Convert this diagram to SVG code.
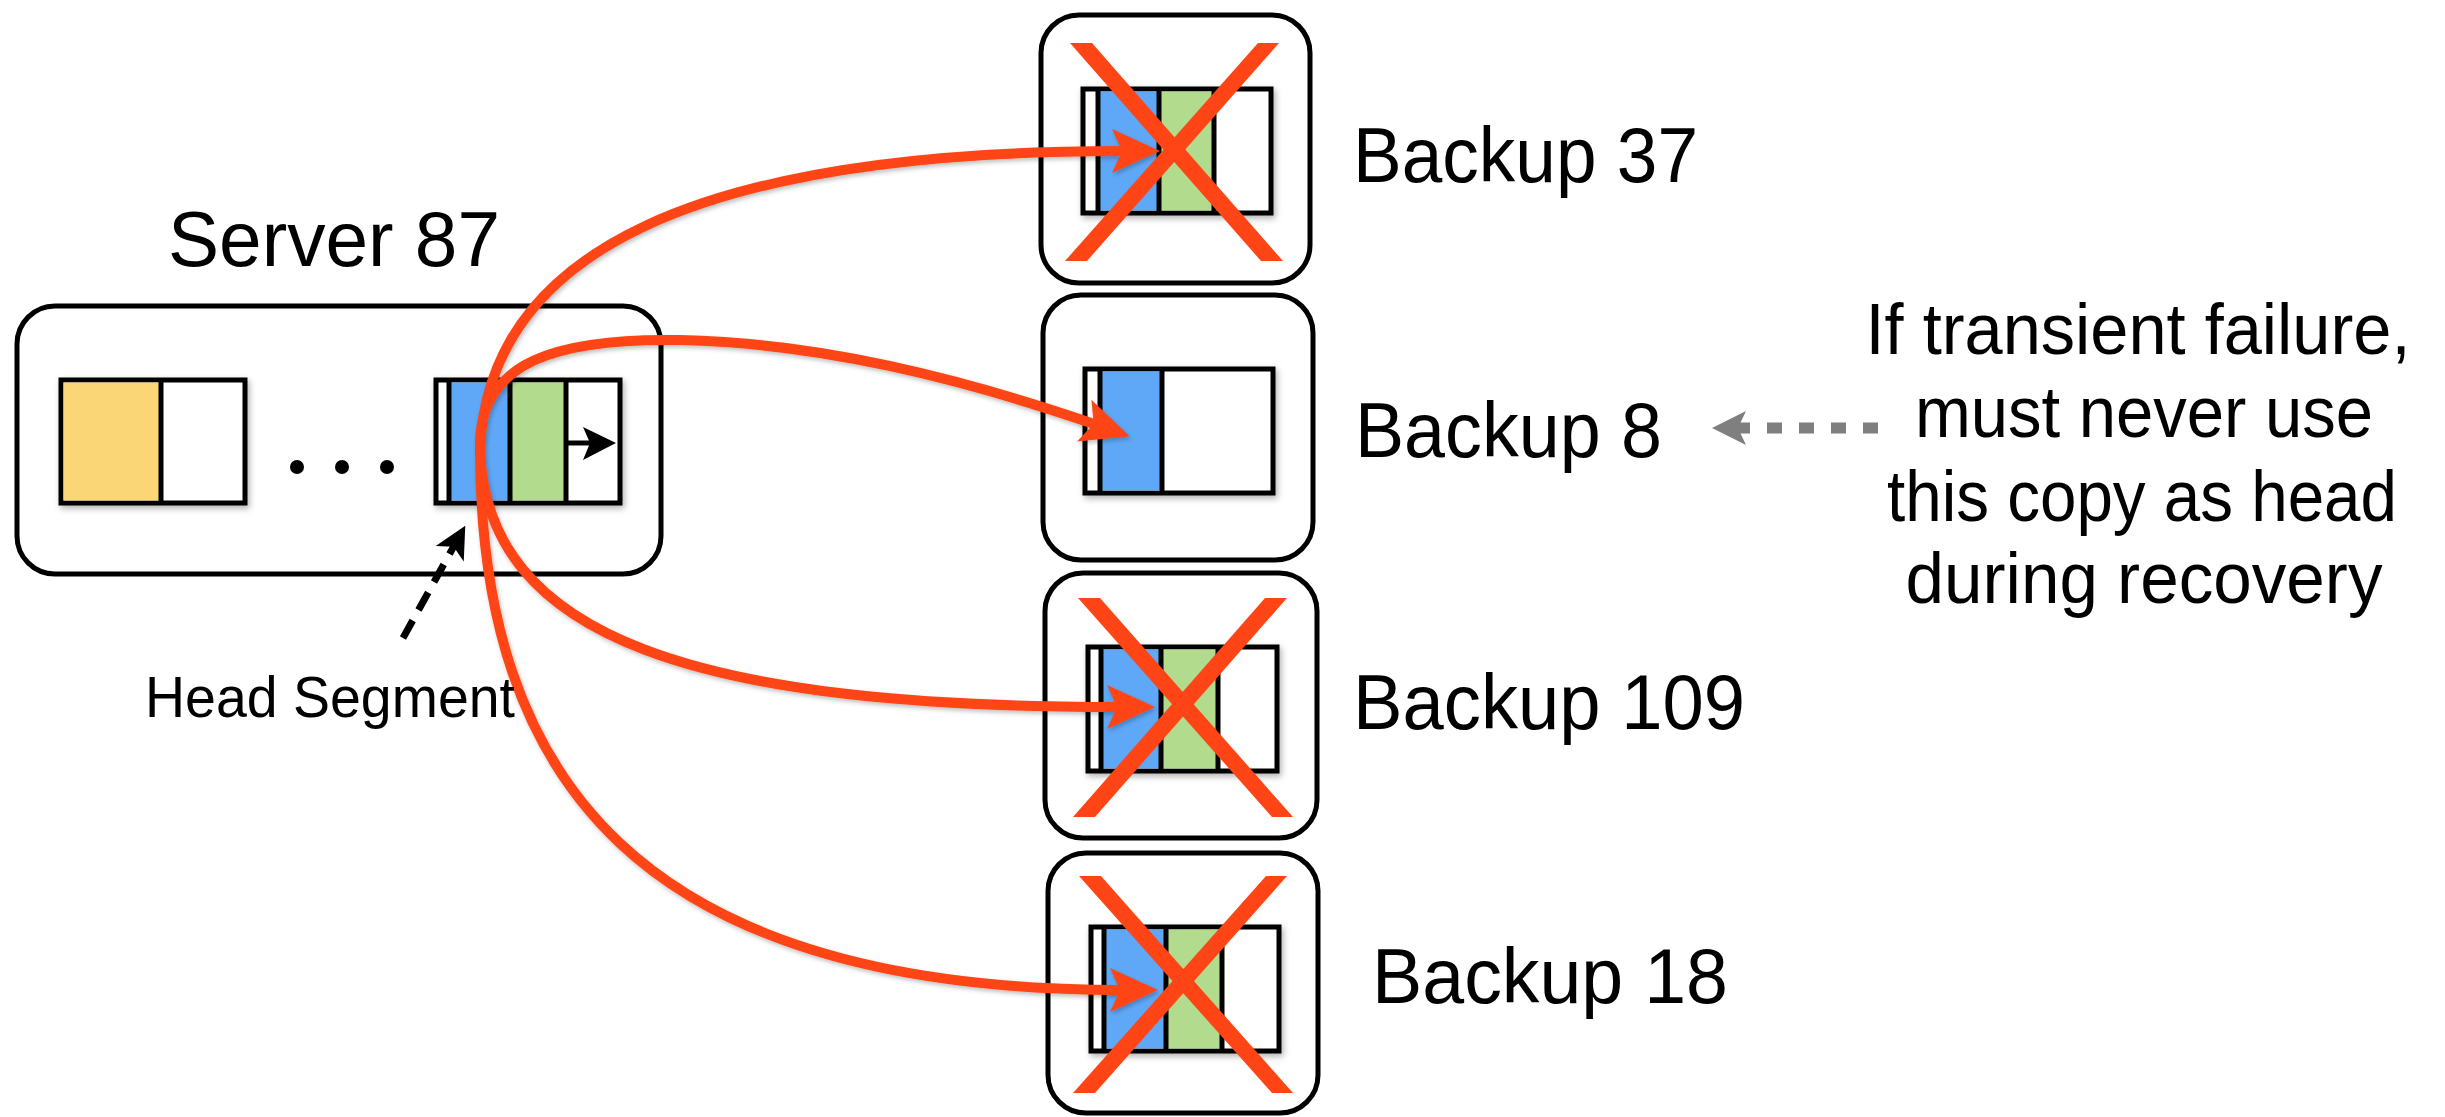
<svg xmlns="http://www.w3.org/2000/svg" width="2445" height="1117" viewBox="0 0 2445 1117">
  <defs>
    <style>
      .box { fill: #ffffff; stroke: #000000; stroke-width: 5; }
      .seg { fill: #ffffff; stroke: #000000; stroke-width: 5; }
      .div { stroke: #000000; stroke-width: 5; }
      .blue { fill: #5EA8F8; }
      .green { fill: #B2DB8D; }
      .yellow { fill: #FBD677; }
      .lbl { font-family: "Liberation Sans", Arial, sans-serif; fill: #000000; }
      .big { font-size: 78px; }
      .small { font-size: 58px; }
      .note { font-size: 72px; text-anchor: middle; }
      .link { fill: none; stroke: #FF4515; stroke-width: 10; }
      .cross { fill: #FF4515; }
    </style>
    <filter id="shadow" x="-10%" y="-10%" width="130%" height="130%">
      <feDropShadow dx="2" dy="3" stdDeviation="3" flood-color="#000000" flood-opacity="0.3"/>
    </filter>
    <filter id="lineShadow" x="-5%" y="-5%" width="115%" height="115%">
      <feDropShadow dx="1.5" dy="2.5" stdDeviation="2" flood-color="#000000" flood-opacity="0.25"/>
    </filter>
    <marker id="redHead" markerUnits="userSpaceOnUse" viewBox="-50 -25 55 50" refX="-36" refY="0" markerWidth="55" markerHeight="50" orient="auto">
      <path d="M 0 0 L -48 -22 L -38 0 L -48 22 Z" fill="#FF4515"/>
    </marker>
    <marker id="blackHead" markerUnits="userSpaceOnUse" viewBox="-36 -20 40 40" refX="-22" refY="0" markerWidth="40" markerHeight="40" orient="auto">
      <path d="M 0 0 L -32 -16 L -24 0 L -32 16 Z" fill="#000000"/>
    </marker>
    <marker id="grayHead" markerUnits="userSpaceOnUse" viewBox="-38 -20 42 40" refX="-24" refY="0" markerWidth="42" markerHeight="40" orient="auto">
      <path d="M 0 0 L -34 -17 L -26 0 L -34 17 Z" fill="#7F7F7F"/>
    </marker>
  </defs>

  <rect width="2445" height="1117" fill="#ffffff"/>

  <!-- Server 87 with its log segments -->
  <g id="server87">
    <text class="lbl big" x="168" y="266" textLength="332" lengthAdjust="spacingAndGlyphs">Server 87</text>
    <rect class="box" x="17" y="306" width="644" height="268" rx="38"/>
    <g filter="url(#shadow)">
      <rect class="seg" x="61" y="380" width="184" height="123"/>
      <rect class="yellow" x="63.5" y="382.5" width="97.5" height="118"/>
      <line class="div" x1="161" y1="380" x2="161" y2="503"/>
    </g>
    <circle cx="297" cy="467" r="7"/>
    <circle cx="342" cy="467" r="7"/>
    <circle cx="387" cy="467" r="7"/>
    <g id="headSegment" filter="url(#shadow)">
      <rect class="seg" x="436" y="380" width="184" height="123"/>
      <rect class="blue" x="449" y="382.5" width="61" height="118"/>
      <rect class="green" x="510" y="382.5" width="56" height="118"/>
      <line class="div" x1="449" y1="380" x2="449" y2="503"/>
      <line class="div" x1="510" y1="380" x2="510" y2="503"/>
      <line class="div" x1="566" y1="380" x2="566" y2="503"/>
      <line x1="566" y1="443" x2="592" y2="443" stroke="#000000" stroke-width="5"/>
      <path d="M 616 443 L 583 427 L 590 443 L 583 460 Z" fill="#000000"/>
    </g>
  </g>

  <!-- Backup copies -->
  <g id="backup37">
    <rect class="box" x="1041" y="15" width="269" height="268" rx="38"/>
    <g filter="url(#shadow)">
      <rect class="seg" x="1083" y="89" width="188" height="124"/>
      <rect class="blue" x="1098" y="91.5" width="61" height="119"/>
      <rect class="green" x="1159" y="91.5" width="55" height="119"/>
      <line class="div" x1="1098" y1="89" x2="1098" y2="213"/>
      <line class="div" x1="1159" y1="89" x2="1159" y2="213"/>
      <line class="div" x1="1214" y1="89" x2="1214" y2="213"/>
    </g>
    <text class="lbl big" x="1353" y="182" textLength="345" lengthAdjust="spacingAndGlyphs">Backup 37</text>
  </g>

  <g id="backup8">
    <rect class="box" x="1043" y="295" width="270" height="265" rx="38"/>
    <g filter="url(#shadow)">
      <rect class="seg" x="1085" y="369" width="188" height="124"/>
      <rect class="blue" x="1100" y="371.5" width="62" height="119"/>
      <line class="div" x1="1100" y1="369" x2="1100" y2="493"/>
      <line class="div" x1="1162" y1="369" x2="1162" y2="493"/>
    </g>
    <text class="lbl big" x="1355" y="457" textLength="307" lengthAdjust="spacingAndGlyphs">Backup 8</text>
  </g>

  <g id="backup109">
    <rect class="box" x="1045" y="573" width="272" height="265" rx="38"/>
    <g filter="url(#shadow)">
      <rect class="seg" x="1088" y="647" width="189" height="124"/>
      <rect class="blue" x="1101" y="649.5" width="60" height="119"/>
      <rect class="green" x="1161" y="649.5" width="57" height="119"/>
      <line class="div" x1="1101" y1="647" x2="1101" y2="771"/>
      <line class="div" x1="1161" y1="647" x2="1161" y2="771"/>
      <line class="div" x1="1218" y1="647" x2="1218" y2="771"/>
    </g>
    <text class="lbl big" x="1353" y="729" textLength="392" lengthAdjust="spacingAndGlyphs">Backup 109</text>
  </g>

  <g id="backup18">
    <rect class="box" x="1048" y="853" width="270" height="260" rx="38"/>
    <g filter="url(#shadow)">
      <rect class="seg" x="1091" y="927" width="188" height="124"/>
      <rect class="blue" x="1104" y="929.5" width="62" height="119"/>
      <rect class="green" x="1166" y="929.5" width="56" height="119"/>
      <line class="div" x1="1104" y1="927" x2="1104" y2="1051"/>
      <line class="div" x1="1166" y1="927" x2="1166" y2="1051"/>
      <line class="div" x1="1222" y1="927" x2="1222" y2="1051"/>
    </g>
    <text class="lbl big" x="1372" y="1003" textLength="356" lengthAdjust="spacingAndGlyphs">Backup 18</text>
  </g>

  <!-- Replication links from the head segment to each backup -->
  <g id="connectors">
    <g filter="url(#lineShadow)">
      <path class="link" d="M 480 448 C 490 250, 700 151, 1124 151" marker-end="url(#redHead)"/>
      <path class="link" d="M 480 448 C 478 360, 560 338, 680 340 C 820 343, 960 378, 1095.6 424.5" marker-end="url(#redHead)"/>
      <path class="link" d="M 480 448 C 485 640, 700 707, 1119 707" marker-end="url(#redHead)"/>
      <path class="link" d="M 480 448 C 480 780, 640 990, 1122 990" marker-end="url(#redHead)"/>
    </g>
    <path d="M 403 638 L 454.6 544.9" fill="none" stroke="#000000" stroke-width="7" stroke-dasharray="20 12" marker-end="url(#blackHead)"/>
    <path d="M 1878 428 L 1736 428" fill="none" stroke="#7F7F7F" stroke-width="11" stroke-dasharray="15 17" marker-end="url(#grayHead)"/>
  </g>

  <!-- Failed backups are crossed out -->
  <g id="failures">
    <polygon class="cross" points="1070,43 1092,43 1283,261 1261,261"/>
    <polygon class="cross" points="1258,43 1279,43 1087,261 1065,261"/>
    <polygon class="cross" points="1078,598 1100,598 1293,817 1272,817"/>
    <polygon class="cross" points="1265,598 1287,598 1095,817 1073,817"/>
    <polygon class="cross" points="1079,876 1101,876 1293,1093 1272,1093"/>
    <polygon class="cross" points="1266,876 1287,876 1095,1093 1073,1093"/>
  </g>

  <!-- Labels -->
  <g id="headLabel">
    <text class="lbl small" x="145" y="717" textLength="370" lengthAdjust="spacingAndGlyphs">Head Segment</text>
  </g>
  <g id="note">
    <text class="lbl note" x="2138" y="354" textLength="545" lengthAdjust="spacingAndGlyphs">If transient failure,</text>
    <text class="lbl note" x="2144" y="437" textLength="458" lengthAdjust="spacingAndGlyphs">must never use</text>
    <text class="lbl note" x="2142" y="521" textLength="510" lengthAdjust="spacingAndGlyphs">this copy as head</text>
    <text class="lbl note" x="2144" y="603" textLength="477" lengthAdjust="spacingAndGlyphs">during recovery</text>
  </g>
</svg>
